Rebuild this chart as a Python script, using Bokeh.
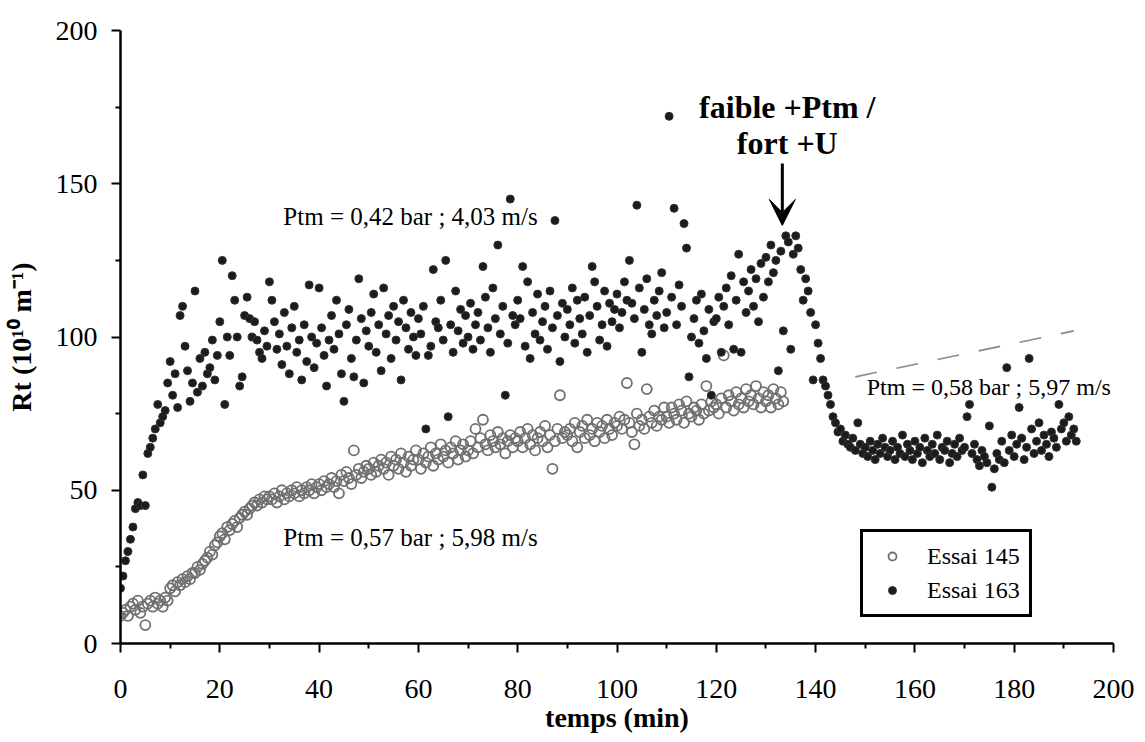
from bokeh.plotting import figure
from bokeh.models import (Range1d, FixedTicker, Label, Arrow, VeeHead,
                          Legend, LegendItem)
from bokeh.embed import file_html
from bokeh.resources import INLINE

# ---------------- data ----------------
T_STEP = 0.5  # sampling interval, min

rt_145 = [
    9, 10, 11, 9, 12, 13, 11, 14, 10, 12, 6, 13, 14, 12, 15, 13, 14, 12, 15, 14,
    18, 19, 17, 20, 19, 21, 20, 22, 21, 23, 23, 25, 24, 26, 27, 28, 30, 29, 32, 33,
    35, 36, 34, 38, 37, 39, 40, 38, 41, 42, 43, 42, 44, 45, 46, 45, 47, 46, 48, 47,
    48, 47, 49, 46, 48, 50, 47, 49, 48, 50, 49, 51, 48, 50, 49, 51, 50, 52, 49, 51,
    52, 50, 53, 51, 52, 54, 51, 53, 49, 55, 53, 56, 54, 52, 63, 55, 57, 54, 56, 58,
    57, 55, 59, 56, 58, 60, 57, 59, 55, 61, 58, 60, 57, 62, 59, 56, 61, 58, 60, 63,
    60, 57, 62, 59, 61, 64, 58, 62, 60, 65, 61, 63, 59, 64, 62, 66, 60, 63, 65, 61,
    63, 66, 62, 70, 64, 67, 73, 65, 63, 68, 66, 64, 69, 65, 67, 62, 66, 68, 64, 67,
    66, 69, 64, 67, 70, 65, 68, 63, 67, 69, 66, 71, 64, 68, 57, 66, 70, 81, 67, 69,
    68, 70, 66, 72, 64, 69, 71, 67, 73, 68, 70, 66, 72, 69, 71, 67, 73, 70, 68, 72,
    71, 74, 70, 73, 85, 72, 69, 65, 75, 71, 73, 70, 83, 74, 72, 76, 71, 74, 73, 77,
    74, 72, 77, 75, 73, 78, 76, 72, 79, 75, 74, 77, 76, 73, 78, 75, 84, 76, 79, 77,
    78, 75, 80, 94, 77, 81, 79, 76, 82, 78, 80, 77, 83, 79, 81, 78, 84, 80, 77, 82,
    79, 81, 77, 83, 80, 78, 82, 79,
]

rt_163 = [
    18, 22, 27, 30, 34, 38, 44, 46, 45, 55, 45, 62, 64, 67, 70, 78, 72, 74, 76, 85,
    92, 81, 88, 77, 107, 110, 97, 89, 79, 85, 115, 82, 93, 84, 95, 88, 90, 99, 86, 94,
    105, 125, 78, 100, 94, 120, 112, 100, 84, 87, 107, 113, 106, 100, 105, 99, 95, 93, 102, 97,
    118, 112, 105, 96, 101, 91, 108, 97, 88, 103, 110, 95, 99, 86, 104, 92, 117, 100, 90, 98,
    116, 103, 94, 84, 99, 107, 96, 112, 101, 88, 79, 104, 109, 93, 87, 99, 119, 106, 85, 102,
    97, 108, 114, 95, 104, 89, 116, 101, 107, 93, 110, 99, 105, 86, 112, 103, 96, 108, 100, 94,
    106, 101, 110, 70, 94, 97, 122, 105, 103, 112, 99, 125, 74, 104, 95, 115, 102, 109, 98, 107,
    100, 111, 96, 104, 108, 99, 123, 113, 103, 95, 116, 106, 130, 101, 110, 81, 98, 145, 107, 104,
    112, 106, 123, 97, 118, 93, 108, 101, 114, 99, 105, 110, 96, 115, 103, 138, 107, 92, 111, 100,
    109, 104, 116, 98, 112, 106, 101, 113, 95, 107, 123, 118, 110, 99, 104, 115, 97, 111, 105, 109,
    114, 103, 108, 118, 112, 125, 111, 106, 143, 116, 95, 109, 119, 104, 101, 112, 107, 115, 121, 103,
    108, 172, 113, 142, 104, 117, 110, 137, 129, 87, 100, 106, 112, 98, 114, 102, 93, 109, 81, 105,
    106, 113, 95, 110, 116, 104, 120, 96, 112, 127, 95, 118, 108, 115, 122, 110, 119, 105, 124, 113,
    126, 118, 130, 121, 125, 89, 128, 102, 133, 131, 96, 127, 133, 129, 122, 112, 119, 115, 108, 86,
    104, 98, 93, 86, 84, 81, 78, 74, 72, 69, 70, 66, 68, 65, 64, 67, 63, 72, 65, 62,
    64, 61, 66, 63, 60, 65, 62, 67, 64, 61, 63, 66, 60, 64, 62, 68, 61, 65, 63, 60,
    66, 62, 64, 59, 67, 63, 61, 65, 62, 68, 60, 64, 63, 66, 59, 62, 65, 61, 67, 63,
    64, 74, 78, 62, 65, 60, 58, 63, 61, 59, 71, 51, 57, 62, 60, 66, 59, 90, 63, 68,
    61, 65, 77, 67, 60, 64, 93, 70, 62, 66, 72, 63, 68, 65, 61, 69, 67, 64, 78, 70,
    72, 66, 74, 68, 70, 66,
]

trend_t = [148, 192]
trend_rt = [87, 102]

x_ticks = [0, 20, 40, 60, 80, 100, 120, 140, 160, 180, 200]
x_minor = [10, 30, 50, 70, 90, 110, 130, 150, 170, 190]
y_ticks = [0, 50, 100, 150, 200]
y_minor = [25, 75, 125, 175]

series_labels = ["Essai 145", "Essai 163"]
annot_texts = ["Ptm = 0,42 bar ; 4,03 m/s", "Ptm = 0,57 bar ; 5,98 m/s",
               "Ptm = 0,58 bar ; 5,97 m/s"]
event_lines = ["faible +Ptm /", "fort +U"]

t_145 = [i * T_STEP for i in range(len(rt_145))]
t_163 = [i * T_STEP for i in range(len(rt_163))]

# ---------------- figure ----------------
SERIF = "Liberation Serif"

p = figure(width=1140, height=740, x_range=Range1d(0, 200), y_range=Range1d(0, 200),
           output_backend="svg", toolbar_location=None,
           min_border_left=120, min_border_right=27, min_border_top=30,
           min_border_bottom=97)
p.xgrid.visible = False
p.ygrid.visible = False
p.outline_line_color = None
p.background_fill_color = "white"
p.border_fill_color = "white"

r145 = p.scatter(t_145, rt_145, marker="circle", size=10, fill_alpha=0,
                 line_color="#707070", line_width=1.8)
r163 = p.scatter(t_163, rt_163, marker="circle", size=8, fill_color="#1c1c1c",
                 line_color="#333333", line_width=1)
p.line(trend_t, trend_rt, line_dash="22 20", line_color="#8a8a8a", line_width=1.6)

p.xaxis.ticker = FixedTicker(ticks=x_ticks, minor_ticks=x_minor)
p.yaxis.ticker = FixedTicker(ticks=y_ticks, minor_ticks=y_minor)
p.xaxis.axis_label = "temps (min)"
p.yaxis.axis_label = "Rt (10\u00b9\u2070 m\u207b\u00b9)"

for ax in (p.xaxis[0], p.yaxis[0]):
    ax.axis_line_width = 2.5
    ax.axis_line_color = "black"
    ax.major_tick_line_width = 2
    ax.minor_tick_line_width = 2
    ax.major_tick_line_color = "black"
    ax.minor_tick_line_color = "black"
    ax.major_tick_in = 0
    ax.major_tick_out = 9
    ax.minor_tick_in = 0
    ax.minor_tick_out = 5
    ax.major_label_text_font = SERIF
    ax.major_label_text_font_size = "28px"
    ax.major_label_text_color = "black"
    ax.axis_label_text_font = SERIF
    ax.axis_label_text_font_style = "bold"
    ax.axis_label_text_font_size = "28px"
    ax.axis_label_text_color = "black"

p.xaxis.major_label_standoff = 27
p.xaxis.axis_label_standoff = 1
p.yaxis.major_label_standoff = 14
p.yaxis.axis_label_standoff = 16

# annotations
annot_pos = [(32.8, 139.3), (32.8, 34.6), (150.3, 83.8)]
annot_size = ["25px", "25px", "24px"]
for txt, (ax_, ay_), fs in zip(annot_texts, annot_pos, annot_size):
    p.add_layout(Label(x=ax_, y=ay_, text=txt, text_font=SERIF, text_font_size=fs,
                       text_color="black", text_align="left", text_baseline="middle"))

event_pos = [(134.3, 174.9), (134.3, 163.3)]
for txt, (ex, ey) in zip(event_lines, event_pos):
    p.add_layout(Label(x=ex, y=ey, text=txt, text_font=SERIF, text_font_size="32px",
                       text_font_style="bold", text_color="black",
                       text_align="center", text_baseline="middle"))

p.add_layout(Arrow(end=VeeHead(size=26, fill_color="black", line_color="black"),
                   x_start=133.3, y_start=156.6, x_end=133.3, y_end=136.4,
                   line_width=3, line_color="black"))

legend = Legend(items=[LegendItem(label=series_labels[0], renderers=[r145]),
                       LegendItem(label=series_labels[1], renderers=[r163])],
                location=(740, 26), orientation="vertical",
                border_line_color="black", border_line_width=3, border_line_alpha=1,
                background_fill_color="white", background_fill_alpha=1,
                padding=9, spacing=4, margin=0,
                glyph_width=40, glyph_height=20, label_height=30, label_standoff=15,
                label_text_font=SERIF, label_text_font_size="24px",
                label_text_color="black")
p.add_layout(legend)

open("out.html", "w").write(file_html(p, INLINE))
